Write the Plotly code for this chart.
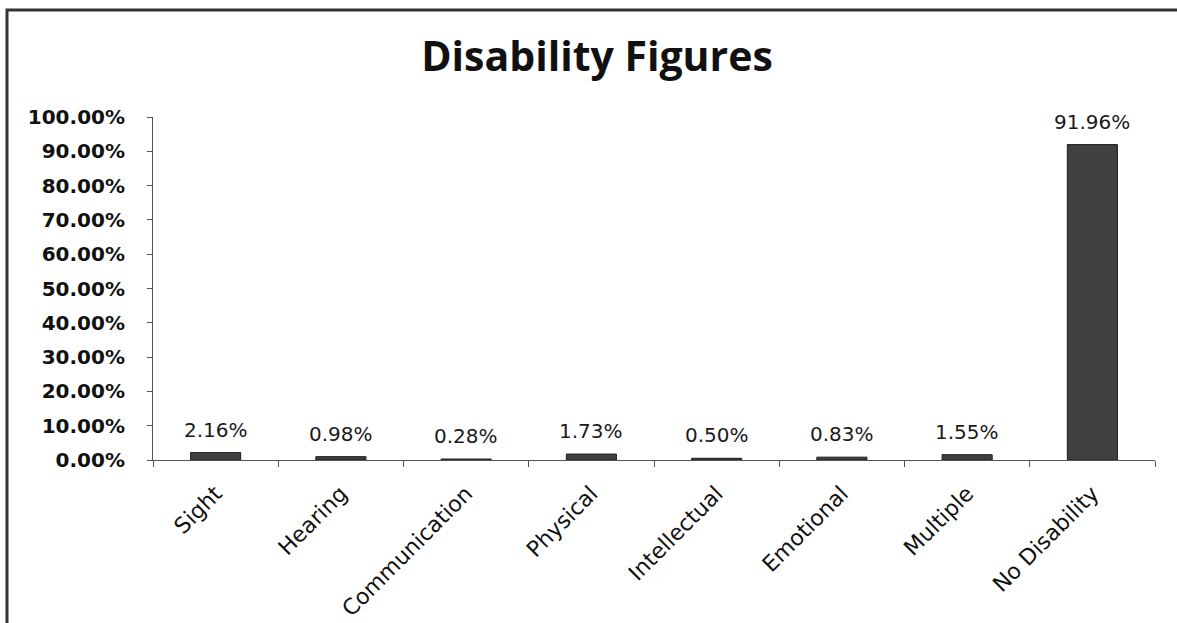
import plotly.graph_objects as go

categories = ["Sight", "Hearing", "Communication", "Physical", "Intellectual",
              "Emotional", "Multiple", "No Disability"]
values = [2.16, 0.98, 0.28, 1.73, 0.50, 0.83, 1.55, 91.96]
value_labels = ["2.16%", "0.98%", "0.28%", "1.73%", "0.50%", "0.83%", "1.55%", "91.96%"]
y_ticks = [0, 10, 20, 30, 40, 50, 60, 70, 80, 90, 100]
y_tick_labels = ["0.00%", "10.00%", "20.00%", "30.00%", "40.00%", "50.00%",
                 "60.00%", "70.00%", "80.00%", "90.00%", "100.00%"]

W, H = 1177, 623
L, R, T, B = 153, 22, 117, 163
pw, ph = W - L - R, H - T - B

fig = go.Figure()
fig.add_trace(go.Bar(
    x=categories, y=values,
    marker=dict(color="#404040", line=dict(color="#1e1e1e", width=1)),
    width=0.4, cliponaxis=False, hoverinfo="x+y",
))

annotations = [
    dict(x=c, y=v, xref="x", yref="y", text=t, showarrow=False,
         yanchor="middle", yshift=23,
         font=dict(size=20, family="DejaVu Sans", color="#1a1a1a"))
    for c, v, t in zip(categories, values, value_labels)
]


def px_x(x):
    return (x - L) / pw


def px_y(y):
    return (H - B - y) / ph


fig.update_layout(
    width=W, height=H,
    margin=dict(l=L, r=R, t=T, b=B, autoexpand=False),
    paper_bgcolor="white", plot_bgcolor="white",
    showlegend=False,
    font=dict(family="DejaVu Sans", color="#111"),
    title=dict(text="<b>Disability Figures</b>", x=597 / W, xref="container",
               xanchor="center", y=1 - 57 / H, yref="container", yanchor="middle",
               font=dict(size=41, family="Open Sans", color="#111")),
    xaxis=dict(type="category", tickson="boundaries", ticks="outside", ticklen=6,
               tickcolor="#555", showline=True, linecolor="#555", linewidth=1,
               tickangle=-45, tickfont=dict(size=22, family="DejaVu Sans", color="#111"),
               showgrid=False, ticklabelstandoff=11, automargin=False),
    yaxis=dict(range=[0, 100], tickvals=y_ticks, ticktext=y_tick_labels,
               ticks="outside", ticklen=5, tickcolor="#555", showline=True,
               linecolor="#555", linewidth=1, showgrid=False, zeroline=False,
               tickfont=dict(size=20, family="DejaVu Sans", color="#111", weight="bold"),
               ticklabelstandoff=18, automargin=False),
    annotations=annotations,
    shapes=[dict(type="rect", xref="paper", yref="paper",
                 x0=px_x(7), x1=px_x(1195), y0=px_y(645), y1=px_y(10),
                 line=dict(color="#333", width=3), fillcolor="rgba(0,0,0,0)",
                 layer="below")],
)
fig.write_html("out.html")
